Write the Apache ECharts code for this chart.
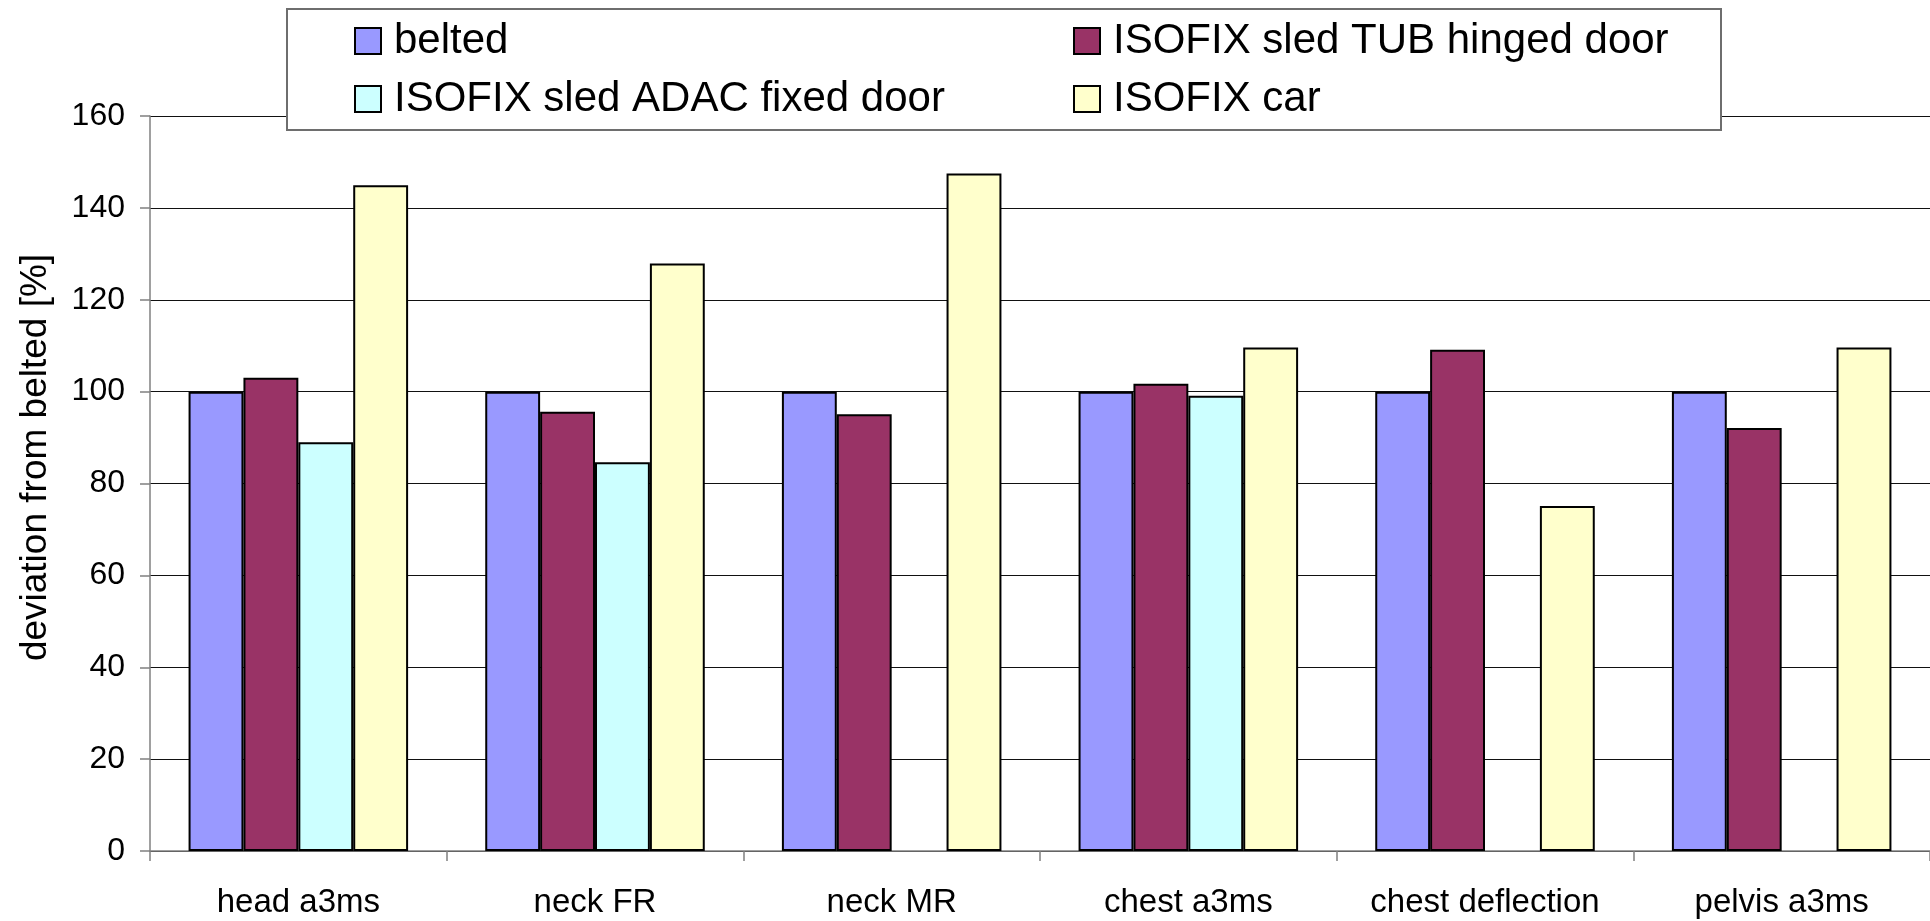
<!DOCTYPE html>
<html>
<head>
<meta charset="utf-8">
<script src="https://cdn.jsdelivr.net/npm/echarts@6/dist/echarts.min.js"></script>
<style>
html,body{margin:0;padding:0;background:#fff;}
#chart{width:1930px;height:921px;}
</style>
</head>
<body>
<div id="chart"></div>
<script>
var categories = ['head a3ms', 'neck FR', 'neck MR', 'chest a3ms', 'chest deflection', 'pelvis a3ms'];
var seriesNames = ['belted', 'ISOFIX sled TUB hinged door', 'ISOFIX sled ADAC fixed door', 'ISOFIX car'];
var belted = [100, 100, 100, 100, 100, 100];
var tubHinged = [103.0, 95.6, 95.1, 101.7, 109.1, 92.1];
var adacFixed = [89.0, 84.6, null, 99.1, null, null];
var isofixCar = [144.9, 127.9, 147.5, 109.6, 75.1, 109.6];
var yTicks = [0, 20, 40, 60, 80, 100, 120, 140, 160];
var yTitle = 'deviation from belted [%]';

var colors = ['#9999FF', '#993366', '#CCFFFF', '#FFFFCC'];
var dataList = [belted, tubHinged, adacFixed, isofixCar];
var font = 'Liberation Sans, Arial, sans-serif';

var series = seriesNames.map(function (n, i) {
  return {
    name: n,
    type: 'bar',
    data: dataList[i],
    barGap: '0%',
    barCategoryGap: '26%',
    itemStyle: { color: colors[i], borderColor: '#000', borderWidth: 2 }
  };
});

var legendPos = [[354, 20], [1073, 20], [354, 78], [1073, 78]];
var legends = seriesNames.map(function (n, i) {
  return {
    data: [n],
    left: legendPos[i][0],
    top: legendPos[i][1],
    z: 20,
    itemWidth: 26,
    itemHeight: 26,
    icon: 'rect',
    padding: 0,
    itemStyle: { borderColor: '#000', borderWidth: 2 },
    textStyle: { fontFamily: font, fontSize: 42, color: '#000', padding: [0, 0, 0, 8] }
  };
});

var chart = echarts.init(document.getElementById('chart'), null, { renderer: 'canvas' });
chart.setOption({
  animation: false,
  backgroundColor: '#fff',
  grid: { left: 150, right: 0, top: 116, bottom: 70, containLabel: false },
  legend: legends,
  graphic: {
    elements: [{
      type: 'rect',
      z: 10,
      shape: { x: 287, y: 9, width: 1434, height: 121 },
      style: { fill: '#fff', stroke: '#6e6e6e', lineWidth: 2 }
    }]
  },
  xAxis: {
    type: 'category',
    data: categories,
    axisLine: { lineStyle: { color: '#808080', width: 1.5 } },
    axisTick: { show: true, interval: 0, length: 10, lineStyle: { color: '#808080', width: 1.5 } },
    axisLabel: { interval: 0, hideOverlap: false, fontFamily: font, fontSize: 33, color: '#000', margin: 35 }
  },
  yAxis: {
    type: 'value',
    min: yTicks[0],
    max: yTicks[yTicks.length - 1],
    interval: yTicks[1] - yTicks[0],
    name: yTitle,
    nameLocation: 'middle',
    nameRotate: 90,
    nameGap: 96,
    nameTextStyle: { fontFamily: font, fontSize: 37, color: '#000', padding: [0, 0, 0, 52] },
    axisLine: { show: true, lineStyle: { color: '#808080', width: 1.5 } },
    axisTick: { show: true, length: 10, lineStyle: { color: '#808080', width: 1.5 } },
    axisLabel: { fontFamily: font, fontSize: 32, color: '#000', margin: 25 },
    splitLine: { show: true, lineStyle: { color: '#111', width: 1 } }
  },
  series: series
});
</script>
</body>
</html>
